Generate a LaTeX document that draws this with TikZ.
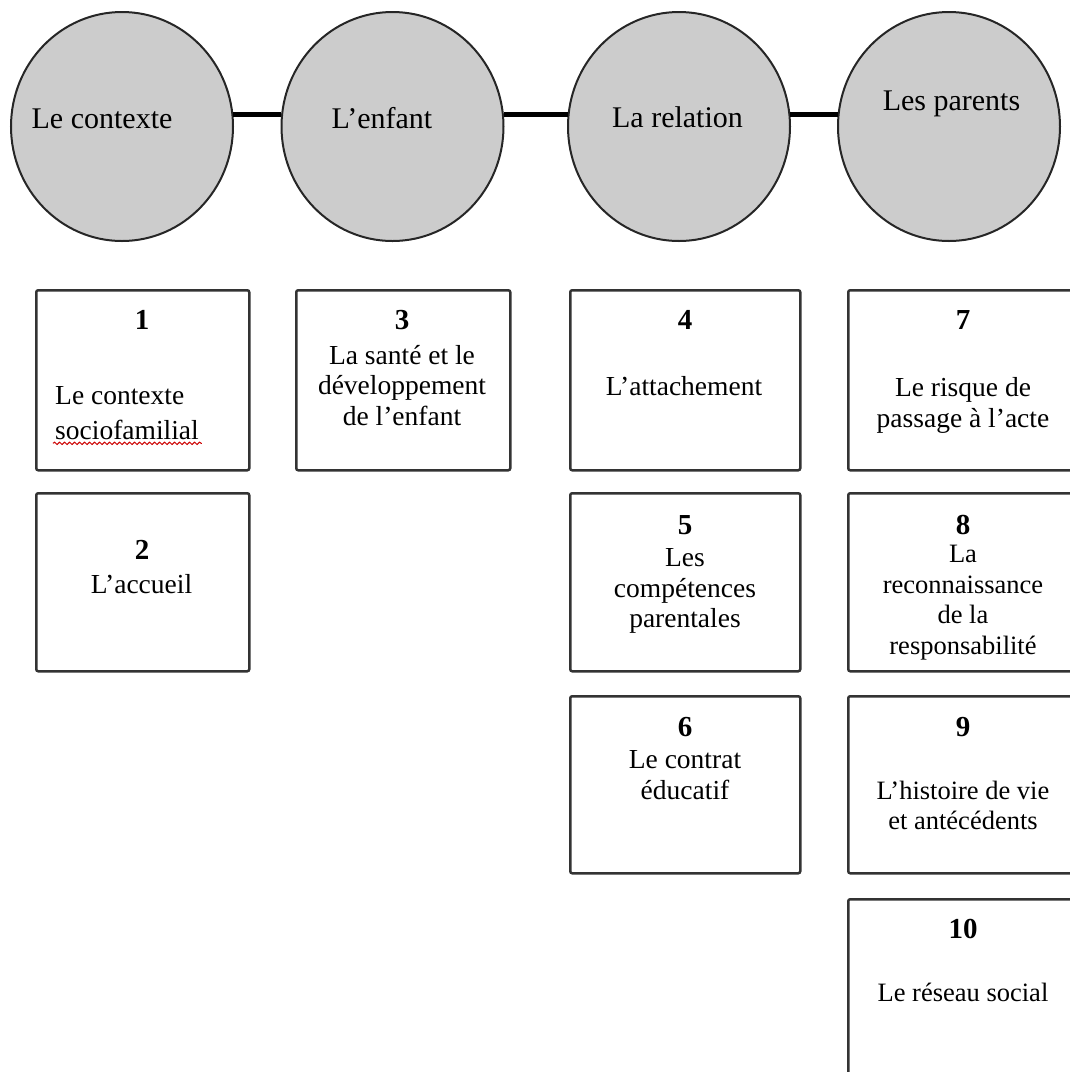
\documentclass[tikz,border=0pt]{standalone}
\usepackage{fontspec}
\setmainfont{Liberation Serif}
\usetikzlibrary{shapes.geometric, decorations.pathmorphing}

\tikzset{
  theme/.style={ellipse, draw=black!85, line width=2pt, fill=gray!40,
    minimum width=222pt, minimum height=229pt, inner sep=0pt},
  themetext/.style={font=\fontsize{30}{33}\selectfont, inner sep=0pt},
  link/.style={line width=5pt, black},
  card/.style={draw=black!80, line width=2.5pt, rounded corners=2pt,
    anchor=north west, minimum height=180pt, inner sep=0pt},
  num/.style={font=\fontsize{29}{31}\selectfont\bfseries, inner sep=0pt},
  body/.style={font=\fontsize{27.5}{30.5}\selectfont, align=center, inner sep=0pt},
  smallbody/.style={body, font=\fontsize{26.5}{30.5}\selectfont},
  wavy/.style={red!80!black, line width=1pt, decorate,
    decoration={snake, amplitude=1.2pt, segment length=5pt}}
}

\begin{document}
\begin{tikzpicture}[x=1pt, y=-1pt]
\useasboundingbox (0,0) rectangle (1070,1072);
\clip (0,0) rectangle (1070,1072);

% the four themes
\node[theme] (c1) at (122,126.5) {};
\node[theme] (c2) at (392.5,126.5) {};
\node[theme] (c3) at (679,126.5) {};
\node[theme] (c4) at (949,126.5) {};

\draw[link] (c1.6) -- (c2.174);
\draw[link] (c2.6) -- (c3.174);
\draw[link] (c3.6) -- (c4.174);

\node[themetext] (h1) at (102,119) {Le contexte};
\node[themetext] (h2) at (382,118) {L’enfant};
\node[themetext] (h3) at (677.5,117.5) {La relation};
\node[themetext] (h4) at (951.5,103.5) {Les parents};

% boxes, column by column
\node[card, minimum width=213pt] (b1) at (35,289) {};
\node[card, minimum width=213pt, minimum height=178pt] (b2) at (35,492) {};
\node[card, minimum width=214pt] (b3) at (295,289) {};
\node[card, minimum width=230pt] (b4) at (569,289) {};
\node[card, minimum width=230pt, minimum height=178pt] (b5) at (569,492) {};
\node[card, minimum width=230pt, minimum height=177pt] (b6) at (569,695) {};
\node[card, minimum width=230pt] (b7) at (847,289) {};
\node[card, minimum width=230pt, minimum height=178pt] (b8) at (847,492) {};
\node[card, minimum width=230pt, minimum height=177pt] (b9) at (847,695) {};
\node[card, minimum width=230pt] (b10) at (847,898) {};

\node[num] (n1) at (142,320) {1};
\node[body, align=left, anchor=west, font=\fontsize{27.5}{35}\selectfont] (t1) at (55,413.5) {Le contexte\\sociofamilial};
\draw[wavy] ([xshift=-2pt, yshift=-3pt]t1.south west) -- ([xshift=3pt, yshift=-3pt]t1.south east);

\node[num] (n2) at (142,550) {2};
\node[body] (t2) at (141.5,584) {L’accueil};

\node[num] (n3) at (402,320) {3};
\node[body] (t3) at (402,385.5) {La santé et le\\développement\\de l’enfant};

\node[num] (n4) at (685,320) {4};
\node[body] (t4) at (684,386.5) {L’attachement};

\node[num] (n5) at (685,525) {5};
\node[body] (t5) at (685,591) {Les\\compétences\\parentales};

\node[num] (n6) at (685,727) {6};
\node[body] (t6) at (685,775) {Le contrat\\éducatif};

\node[num] (n7) at (963,320) {7};
\node[body] (t7) at (963,405.5) {Le risque de\\passage à l’acte};

\node[num] (n8) at (963,525) {8};
\node[smallbody] (t8) at (963,602.5) {La\\reconnaissance\\de la\\responsabilité};

\node[num] (n9) at (963,727) {9};
\node[smallbody] (t9) at (963,805.5) {L’histoire de vie\\et antécédents};

\node[num] (n10) at (963,929) {10};
\node[smallbody] (t10) at (963,992.5) {Le réseau social};
\end{tikzpicture}
\end{document}
